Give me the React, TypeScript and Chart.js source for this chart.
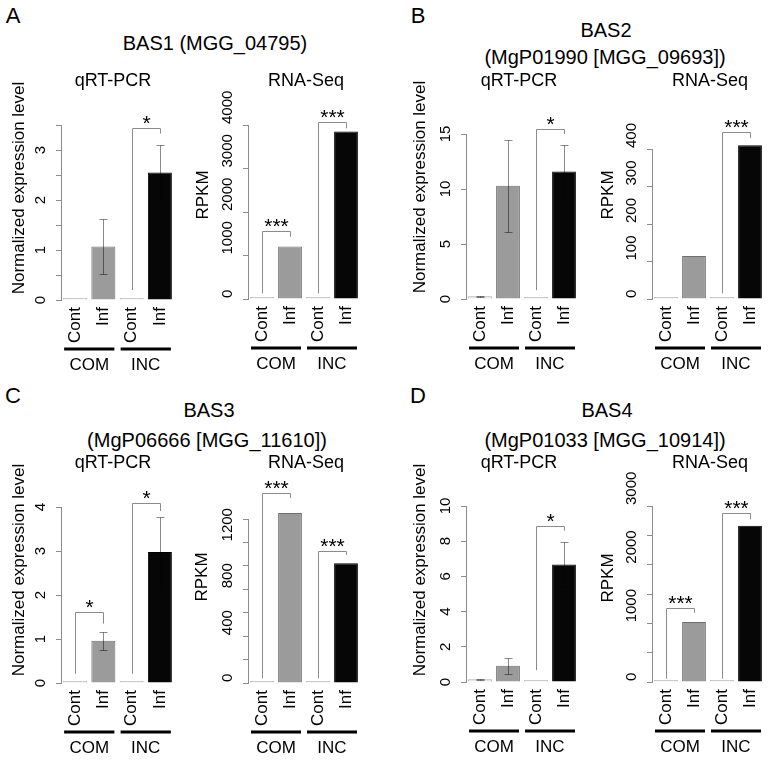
import React, { useEffect, useRef } from 'react';
import { Chart, registerables } from 'chart.js';

Chart.register(...registerables);

// ---------- data ----------
const conditions = ['Cont', 'Inf', 'Cont', 'Inf'];
const groups = ['COM', 'INC'];

// BAS1
const bas1QrtValues = [0.03, 1.07, 0.03, 2.55];
const bas1QrtErrors = [0, 0.55, 0, 0.55];
const bas1QrtTickLabels = [0, 1, 2, 3];
const bas1RnaValues = [10, 1205, 10, 3850];
const bas1RnaTickLabels = [0, 1000, 2000, 3000, 4000];
// [leftBar, rightBar, top, leftFoot, rightFoot, label]
const bas1QrtBrackets: [number, number, number, number, number, string][] = [[2, 3, 3.43, 0.2, 3.33, '*']];
const bas1RnaBrackets: [number, number, number, number, number, string][] = [
  [0, 1, 1570, 130, 1430, '***'],
  [2, 3, 4076, 130, 3924, '***'],
];

// BAS2
const bas2QrtValues = [0.25, 10.3, 0.08, 11.6];
const bas2QrtErrors = [0.05, 4.2, 0, 2.4];
const bas2QrtTickLabels = [0, 5, 10, 15];
const bas2RnaValues = [1, 115, 1, 410];
const bas2RnaTickLabels = [0, 100, 200, 300, 400];
const bas2QrtBrackets: [number, number, number, number, number, string][] = [[2, 3, 15.43, 0.8, 15.0, '*']];
const bas2RnaBrackets: [number, number, number, number, number, string][] = [[2, 3, 445, 15, 429, '***']];

// BAS3
const bas3QrtValues = [0.01, 0.96, 0.01, 2.98];
const bas3QrtErrors = [0, 0.21, 0, 0.8];
const bas3QrtTickLabels = [0, 1, 2, 3, 4];
const bas3RnaValues = [3, 1452, 3, 1023];
const bas3RnaTickLabels = [0, 400, 800, 1200];
const bas3QrtBrackets: [number, number, number, number, number, string][] = [
  [0, 1, 1.62, 0.21, 1.35, '*'],
  [2, 3, 4.09, 0.21, 3.91, '*'],
];
const bas3RnaBrackets: [number, number, number, number, number, string][] = [
  [0, 1, 1623, 40, 1580, '***'],
  [2, 3, 1123, 40, 1094, '***'],
];

// BAS4
const bas4QrtValues = [0.15, 0.92, 0.07, 6.68];
const bas4QrtErrors = [0.02, 0.46, 0, 1.25];
const bas4QrtTickLabels = [0, 2, 4, 6, 8, 10];
const bas4RnaValues = [3, 1024, 3, 2664];
const bas4RnaTickLabels = [0, 1000, 2000, 3000];
const bas4QrtBrackets: [number, number, number, number, number, string][] = [[2, 3, 8.88, 0.67, 8.6, '*']];
const bas4RnaBrackets: [number, number, number, number, number, string][] = [
  [0, 1, 1264, 57, 1178, '***'],
  [2, 3, 2875, 57, 2772, '***'],
];

const noErrors = [0, 0, 0, 0];

// ---------- styling / layout ----------
const FONT = '"Liberation Sans", Arial, Helvetica, sans-serif';
const barFill = ['#e4e4e4', '#9b9b9b', '#e4e4e4', '#060606'];
const barBorder = ['#b0b0b0', '#6f6f6f', '#b0b0b0', '#000000'];
const lineGrey = '#8c8c8c';

type Bracket = [number, number, number, number, number, string];
interface Panel {
  values: number[];
  errors: number[];
  max: number;
  step: number;
  tickLabels: number[];
  brackets: Bracket[];
  box: { L: number; R: number; T: number; B: number };
  labelStart: boolean;
}

const panels: Panel[] = [
  { values: bas1QrtValues, errors: bas1QrtErrors, max: 3.5, step: 0.5, tickLabels: bas1QrtTickLabels, brackets: bas1QrtBrackets, box: { L: 61, R: 174, T: 125, B: 300 }, labelStart: false },
  { values: bas1RnaValues, errors: noErrors, max: 4000, step: 1000, tickLabels: bas1RnaTickLabels, brackets: bas1RnaBrackets, box: { L: 248, R: 360, T: 125, B: 299 }, labelStart: true },
  { values: bas2QrtValues, errors: bas2QrtErrors, max: 15, step: 5, tickLabels: bas2QrtTickLabels, brackets: bas2QrtBrackets, box: { L: 466, R: 578, T: 134, B: 299 }, labelStart: false },
  { values: bas2RnaValues, errors: noErrors, max: 400, step: 100, tickLabels: bas2RnaTickLabels, brackets: bas2RnaBrackets, box: { L: 652, R: 764, T: 149, B: 299 }, labelStart: true },
  { values: bas3QrtValues, errors: bas3QrtErrors, max: 4, step: 1, tickLabels: bas3QrtTickLabels, brackets: bas3QrtBrackets, box: { L: 61, R: 174, T: 507, B: 683 }, labelStart: false },
  { values: bas3RnaValues, errors: noErrors, max: 1400, step: 200, tickLabels: bas3RnaTickLabels, brackets: bas3RnaBrackets, box: { L: 248, R: 360, T: 519, B: 683 }, labelStart: true },
  { values: bas4QrtValues, errors: bas4QrtErrors, max: 10, step: 2, tickLabels: bas4QrtTickLabels, brackets: bas4QrtBrackets, box: { L: 466, R: 578, T: 506, B: 682 }, labelStart: false },
  { values: bas4RnaValues, errors: noErrors, max: 3000, step: 500, tickLabels: bas4RnaTickLabels, brackets: bas4RnaBrackets, box: { L: 652, R: 764, T: 506, B: 682 }, labelStart: true },
];

const PAD_L = 40;
const PAD_T = 50;
const PAD_R = 5;
const PAD_B = 80;
const Y_W = 6;

function makePlugin(p: Panel) {
  return {
    id: 'annot',
    afterDatasetsDraw(chart: any) {
      const ctx: CanvasRenderingContext2D = chart.ctx;
      const y = chart.scales.y;
      const meta = chart.getDatasetMeta(0);
      const area = chart.chartArea;
      const cx = (i: number) => meta.data[i].x;
      ctx.save();

      // error bars
      ctx.globalCompositeOperation = 'multiply';
      ctx.strokeStyle = '#8a8a8a';
      ctx.lineWidth = 1;
      p.errors.forEach((e, i) => {
        if (!e) return;
        const x = Math.round(cx(i)) + 0.5;
        const v = p.values[i];
        const yt = Math.round(y.getPixelForValue(v + e)) + 0.5;
        const yb = Math.round(y.getPixelForValue(Math.max(0, v - e))) + 0.5;
        ctx.beginPath();
        ctx.moveTo(x, yt); ctx.lineTo(x, yb);
        ctx.moveTo(x - 4, yt); ctx.lineTo(x + 4, yt);
        ctx.moveTo(x - 4, yb); ctx.lineTo(x + 4, yb);
        ctx.stroke();
      });
      ctx.globalCompositeOperation = 'source-over';

      // significance brackets
      p.brackets.forEach(([i, j, top, lf, rf, label]) => {
        const x1 = Math.round(cx(i)) + 0.5;
        const x2 = Math.round(cx(j)) + 0.5;
        const yT = Math.round(y.getPixelForValue(top)) + 0.5;
        ctx.strokeStyle = lineGrey;
        ctx.lineWidth = 1;
        ctx.beginPath();
        ctx.moveTo(x1, y.getPixelForValue(lf));
        ctx.lineTo(x1, yT);
        ctx.lineTo(x2, yT);
        ctx.lineTo(x2, y.getPixelForValue(rf));
        ctx.stroke();
        ctx.fillStyle = '#000';
        ctx.font = `21px ${FONT}`;
        ctx.textAlign = 'center';
        ctx.textBaseline = 'alphabetic';
        ctx.fillText(label, (x1 + x2) / 2, yT + 1);
      });

      // y tick labels (rotated, R style)
      ctx.fillStyle = '#000';
      ctx.font = `15px ${FONT}`;
      ctx.textAlign = p.labelStart ? 'left' : 'center';
      ctx.textBaseline = 'middle';
      p.tickLabels.forEach((v) => {
        ctx.save();
        ctx.translate(area.left - 20, y.getPixelForValue(v) - (p.labelStart ? 1 : 0));
        ctx.rotate(-Math.PI / 2);
        ctx.fillText(String(v), 0, 0);
        ctx.restore();
      });

      // x labels (vertical)
      ctx.font = `17px ${FONT}`;
      ctx.textAlign = 'right';
      ctx.textBaseline = 'middle';
      conditions.forEach((c, i) => {
        ctx.save();
        ctx.translate(cx(i), area.bottom + 7);
        ctx.rotate(-Math.PI / 2);
        ctx.fillText(c, 0, 0);
        ctx.restore();
      });

      // group lines and labels
      groups.forEach((g, k) => {
        const c1 = cx(2 * k);
        const c2 = cx(2 * k + 1);
        ctx.strokeStyle = '#000';
        ctx.lineWidth = 3;
        ctx.beginPath();
        ctx.moveTo(c1 - 11, area.bottom + 49);
        ctx.lineTo(c2 + 11, area.bottom + 49);
        ctx.stroke();
        ctx.fillStyle = '#000';
        ctx.font = `17px ${FONT}`;
        ctx.textAlign = 'center';
        ctx.textBaseline = 'middle';
        ctx.fillText(g, (c1 + c2) / 2, area.bottom + 65);
      });
      ctx.restore();
    },
  };
}

function BarPanel({ p }: { p: Panel }) {
  const ref = useRef<HTMLCanvasElement | null>(null);
  const { L, R, T, B } = p.box;
  const left = L - PAD_L;
  const top = T - PAD_T;
  const width = R - L + PAD_L + PAD_R;
  const height = B - T + PAD_T + PAD_B;
  useEffect(() => {
    if (!ref.current) return;
    const chart = new Chart(ref.current, {
      type: 'bar',
      data: {
        labels: conditions,
        datasets: [
          {
            data: p.values,
            backgroundColor: barFill,
            borderColor: barBorder,
            borderWidth: 1,
            barPercentage: 0.85,
            categoryPercentage: 1,
            minBarLength: 2,
            clip: false as any,
          },
        ],
      },
      options: {
        animation: false,
        responsive: false,
        maintainAspectRatio: false,
        events: [],
        layout: { padding: { left: PAD_L - Y_W, top: PAD_T, right: PAD_R, bottom: PAD_B } },
        plugins: { legend: { display: false }, tooltip: { enabled: false }, title: { display: false } },
        scales: {
          x: { display: false, offset: true },
          y: {
            min: 0,
            max: p.max,
            ticks: { stepSize: p.step, display: false },
            grid: { drawOnChartArea: false, drawTicks: true, tickLength: 5, color: lineGrey },
            border: { display: true, color: lineGrey, width: 1 },
            afterFit: (s: any) => {
              s.width = Y_W;
            },
          },
        },
      },
      plugins: [makePlugin(p)],
    } as any);
    return () => chart.destroy();
  }, []);
  return (
    <canvas
      ref={ref}
      width={width}
      height={height}
      style={{ position: 'absolute', left, top, width, height }}
    />
  );
}

const textBase: React.CSSProperties = {
  position: 'absolute',
  whiteSpace: 'nowrap',
  fontFamily: FONT,
  color: '#000',
  lineHeight: 1,
};

function Txt({ x, y, size, children, rot }: { x: number; y: number; size: number; children: React.ReactNode; rot?: boolean }) {
  return (
    <div
      style={{
        ...textBase,
        left: x,
        top: y,
        fontSize: size,
        transform: `translate(-50%, -50%)${rot ? ' rotate(-90deg)' : ''}`,
      }}
    >
      {children}
    </div>
  );
}

export default function App() {
  return (
    <div
      style={{
        position: 'absolute',
        left: 0,
        top: 0,
        width: 771,
        height: 760,
        overflow: 'hidden',
        background: '#fff',
      }}
    >
      {panels.map((p, i) => (
        <BarPanel key={i} p={p} />
      ))}

      <Txt x={13} y={16} size={22}>A</Txt>
      <Txt x={418} y={16} size={22}>B</Txt>
      <Txt x={13} y={396} size={22}>C</Txt>
      <Txt x={418} y={396} size={22}>D</Txt>

      <Txt x={215} y={43} size={20}>BAS1 (MGG_04795)</Txt>
      <Txt x={606} y={30} size={20}>BAS2</Txt>
      <Txt x={605} y={57} size={20}>(MgP01990 [MGG_09693])</Txt>
      <Txt x={209} y={410} size={20}>BAS3</Txt>
      <Txt x={207} y={440} size={20}>(MgP06666 [MGG_11610])</Txt>
      <Txt x={607} y={410} size={20}>BAS4</Txt>
      <Txt x={605} y={440} size={20}>(MgP01033 [MGG_10914])</Txt>

      <Txt x={113} y={80} size={18}>qRT-PCR</Txt>
      <Txt x={306} y={80} size={18}>RNA-Seq</Txt>
      <Txt x={519} y={80} size={18}>qRT-PCR</Txt>
      <Txt x={710} y={80} size={18}>RNA-Seq</Txt>
      <Txt x={113} y={462} size={18}>qRT-PCR</Txt>
      <Txt x={306} y={462} size={18}>RNA-Seq</Txt>
      <Txt x={519} y={462} size={18}>qRT-PCR</Txt>
      <Txt x={710} y={462} size={18}>RNA-Seq</Txt>

      <Txt x={18} y={188} size={17} rot>Normalized expression level</Txt>
      <Txt x={419} y={187} size={17} rot>Normalized expression level</Txt>
      <Txt x={18} y={570} size={17} rot>Normalized expression level</Txt>
      <Txt x={419} y={570} size={17} rot>Normalized expression level</Txt>
      <Txt x={202} y={195} size={17} rot>RPKM</Txt>
      <Txt x={607} y={195} size={17} rot>RPKM</Txt>
      <Txt x={201} y={577} size={17} rot>RPKM</Txt>
      <Txt x={607} y={578} size={17} rot>RPKM</Txt>
    </div>
  );
}
